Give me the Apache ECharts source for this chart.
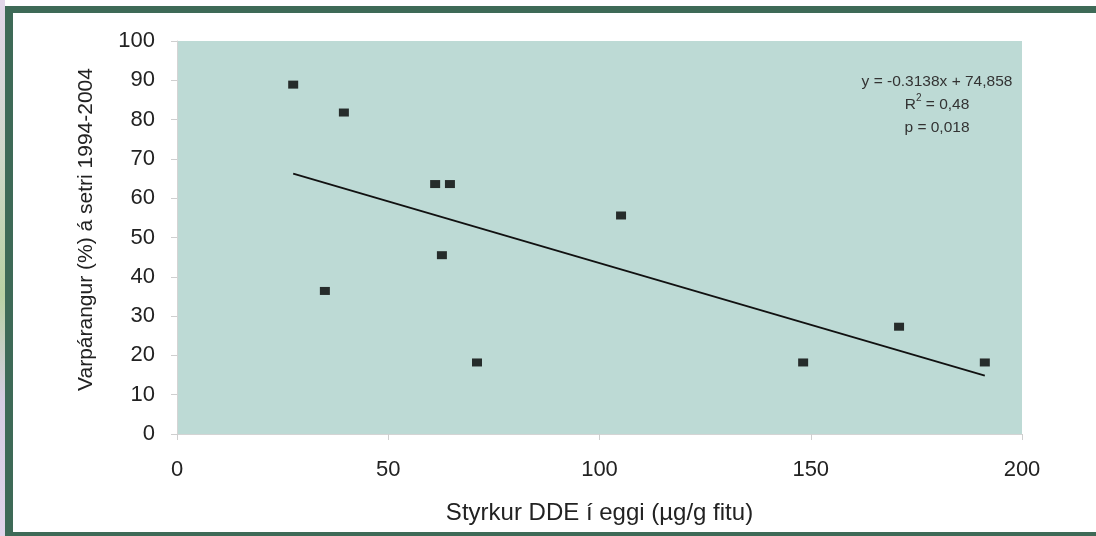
<!DOCTYPE html>
<html>
<head>
<meta charset="utf-8">
<title>Varpárangur og DDE</title>
<script src="https://cdn.jsdelivr.net/npm/echarts@6/dist/echarts.min.js"></script>
<style>
  html, body { margin: 0; padding: 0; background: #ffffff; }
  #chart { width: 1096px; height: 536px; }
</style>
</head>
<body>
<div id="chart"></div>
<script>
// DDE concentration in eggs (µg/g fat) per nest site
const ddeValues = [27.5, 39.5, 35.0, 61.1, 64.6, 62.7, 71.0, 105.1, 148.2, 170.9, 191.2];
// Breeding success (%) at the site, 1994-2004
const successPct = [88.9, 81.8, 36.4, 63.6, 63.6, 45.5, 18.2, 55.6, 18.2, 27.3, 18.2];

// Linear fit as stated in the annotation
const fitSlope = -0.3138;
const fitIntercept = 74.858;
const fitText = ['y = -0.3138x + 74,858', 'R', '2', ' = 0,48', 'p = 0,018'];

const xTicks = { min: 0, max: 200, interval: 50 };
const yTicks = { min: 0, max: 100, interval: 10 };

const xTitle = 'Styrkur DDE í eggi (µg/g fitu)';
const yTitle = 'Varpárangur (%) á setri 1994-2004';

const points = ddeValues.map((x, i) => [x, successPct[i]]);
const xMin = Math.min(...ddeValues);
const xMax = Math.max(...ddeValues);
const fitLine = [xMin, xMax].map(x => [x, fitSlope * x + fitIntercept]);

const font = '"Liberation Sans", Arial, sans-serif';
const frameColor = '#3e6a57';
const textColor = '#222';

const chart = echarts.init(document.getElementById('chart'), null, { renderer: 'canvas' });

chart.setOption({
  backgroundColor: '#ffffff',
  animation: false,
  textStyle: { fontFamily: font },
  grid: {
    left: 177, right: 74, top: 41, bottom: 102,
    show: true,
    backgroundColor: '#bddad5',
    borderWidth: 0
  },
  xAxis: {
    type: 'value',
    min: xTicks.min, max: xTicks.max, interval: xTicks.interval,
    name: xTitle,
    nameLocation: 'middle',
    nameGap: 67,
    nameTextStyle: { fontSize: 24, color: textColor, fontFamily: font },
    axisLine: { show: true, lineStyle: { color: '#d4d4d4', width: 1 } },
    axisTick: { show: true, length: 6, lineStyle: { color: '#cfcfcf' } },
    axisLabel: { fontSize: 22, color: textColor, margin: 25, fontFamily: font },
    splitLine: { show: false }
  },
  yAxis: {
    type: 'value',
    min: yTicks.min, max: yTicks.max, interval: yTicks.interval,
    name: yTitle,
    nameLocation: 'middle',
    nameGap: 80,
    nameRotate: 90,
    nameTextStyle: { fontSize: 21, color: textColor, fontFamily: font, padding: [0, 0, 0, 16] },
    axisLine: { show: true, lineStyle: { color: '#d4d4d4', width: 1 } },
    axisTick: { show: true, length: 6, lineStyle: { color: '#cfcfcf' } },
    axisLabel: { fontSize: 22, color: textColor, margin: 22, fontFamily: font },
    splitLine: { show: false }
  },
  series: [
    {
      type: 'line',
      data: fitLine,
      symbol: 'none',
      lineStyle: { color: '#111', width: 1.8 },
      z: 2
    },
    {
      type: 'scatter',
      data: points,
      symbol: 'rect',
      symbolSize: [10, 8],
      itemStyle: { color: '#000' },
      z: 3
    }
  ],
  graphic: [
    // left decorative strip
    {
      type: 'rect', shape: { x: 0, y: 0, width: 5, height: 536 },
      style: {
        fill: new echarts.graphic.LinearGradient(0, 0, 0, 1, [
          { offset: 0, color: '#e2d6ea' },
          { offset: 0.3, color: '#cfd8c8' },
          { offset: 0.55, color: '#b9d2a4' },
          { offset: 0.75, color: '#d6cde3' },
          { offset: 1, color: '#e0d4ea' }
        ])
      },
      silent: true
    },
    // dark green frame
    { type: 'rect', shape: { x: 5, y: 6, width: 1091, height: 7 }, style: { fill: frameColor }, silent: true },
    { type: 'rect', shape: { x: 5, y: 6, width: 8, height: 530 }, style: { fill: frameColor }, silent: true },
    { type: 'rect', shape: { x: 5, y: 532, width: 1091, height: 4 }, style: { fill: frameColor }, silent: true },
    // regression annotation
    {
      type: 'text',
      x: 937, y: 70,
      style: {
        text: '{a|' + fitText[0] + '}\n{a|' + fitText[1] + '}{s|' + fitText[2] + '}{a|' + fitText[3] + '}\n{a|' + fitText[4] + '}',
        align: 'center',
        verticalAlign: 'top',
        rich: {
          a: { fontSize: 15.5, fontFamily: font, fill: '#333', color: '#333', lineHeight: 23, align: 'center' },
          s: { fontSize: 10, fontFamily: font, fill: '#333', color: '#333', lineHeight: 23, align: 'center', verticalAlign: 'top', padding: [0, 0, 9, 0] }
        }
      },
      silent: true
    }
  ]
});
</script>
</body>
</html>
